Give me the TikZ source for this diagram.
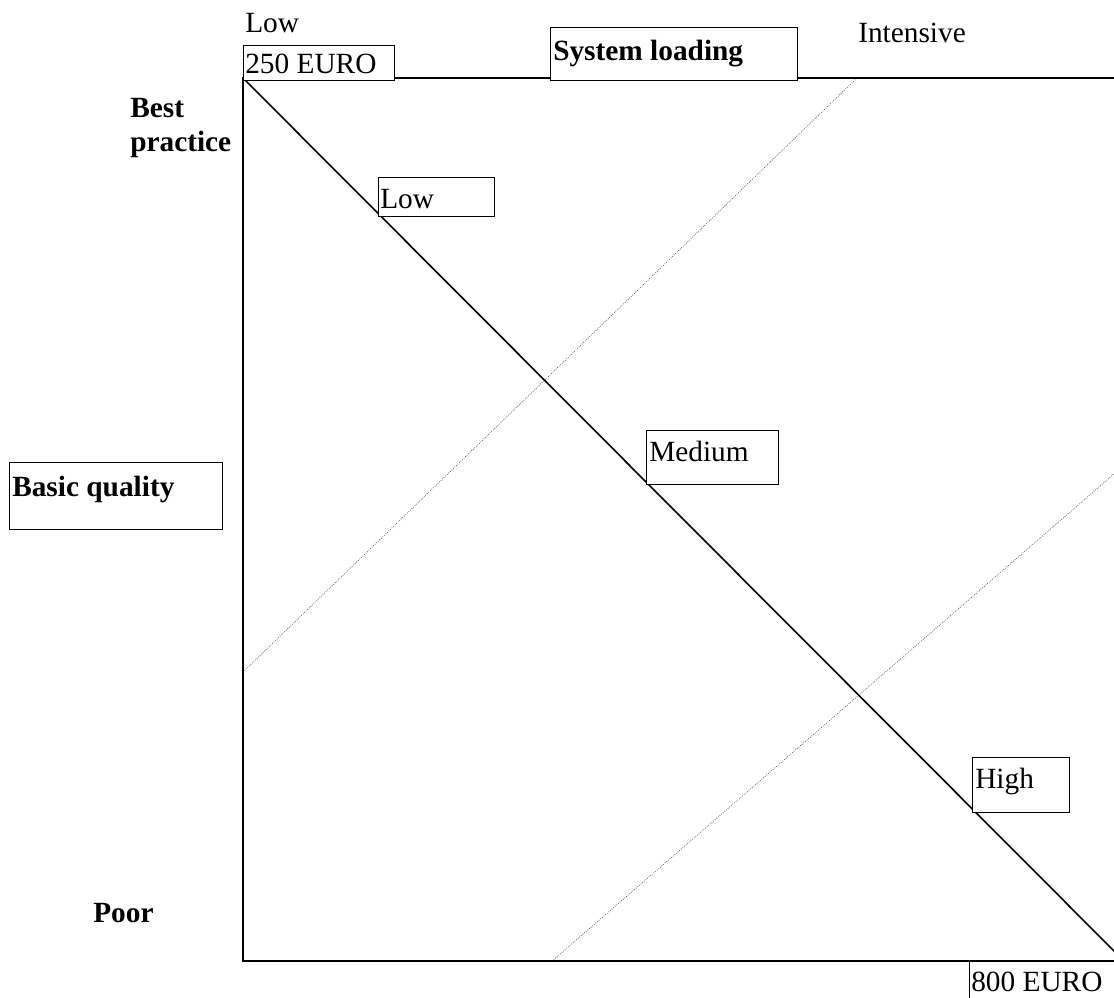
\documentclass[tikz,border=0pt]{standalone}
\usepackage{fontspec}
\setmainfont{Liberation Serif}
\begin{document}
\begin{tikzpicture}[x=0.75pt,y=-0.75pt,
  frame/.style={line width=1.6pt},
  diag/.style={line width=1.2pt},
  guide/.style={line width=0.6pt, densely dotted, black!60},
  box/.style={draw, line width=1.1pt, fill=white, inner sep=0pt, anchor=north west},
  txt/.style={inner sep=0pt, anchor=base west, font=\fontsize{22}{25.5}\selectfont},
  btxt/.style={txt, font=\fontsize{22}{25.5}\selectfont\bfseries}]
\useasboundingbox (0,0) rectangle (1114,997);
\clip (0,0) rectangle (1114,997);
% corners of the chart
\coordinate (tl) at (243,78);
\coordinate (tr) at (1130,78);
\coordinate (bl) at (243,961);
\coordinate (br) at (1124,961);
\coordinate (brx) at (1130,961);
\coordinate (g1a) at (243,672);
\coordinate (g1b) at (857,78);
\coordinate (g2a) at (552,961);
\coordinate (g2b) at (1114,474);
% guide lines
\draw[guide] (g1a) -- (g1b);
\draw[guide] (g2a) -- (g2b);
% frame
\draw[frame] (tr) -- (tl) -- (bl) -- (brx);
% diagonal
\draw[diag] (tl) -- (br);
% boxes
\node[box, minimum width=151*0.75pt, minimum height=35*0.75pt] (b250) at (243,45) {};
\node[box, minimum width=247*0.75pt, minimum height=53*0.75pt] (bsys) at (550,27) {};
\node[box, minimum width=213*0.75pt, minimum height=67*0.75pt] (bbasic) at (9,462) {};
\node[box, minimum width=116*0.75pt, minimum height=39*0.75pt] (blow) at (378,177) {};
\node[box, minimum width=132*0.75pt, minimum height=54*0.75pt] (bmed) at (646,430) {};
\node[box, minimum width=97*0.75pt, minimum height=55*0.75pt] (bhigh) at (972,757) {};
\node[box, minimum width=160*0.75pt, minimum height=80*0.75pt] (b800) at (969,961) {};
% texts
\node[txt] (tlow) at (245,32) {Low};
\node[txt] (t250) at (245,73) {250 EURO};
\node[btxt] (tsys) at (553,60) {System loading};
\node[txt] (tint) at (858,42) {Intensive};
\node[btxt] (tbest) at (130,117) {Best};
\node[btxt] (tprac) at (130,151) {practice};
\node[btxt] (tbasic) at (12,496) {Basic quality};
\node[txt] (tlowb) at (380,208) {Low};
\node[txt] (tmed) at (649,461) {Medium};
\node[txt] (thigh) at (975,788) {High};
\node[btxt] (tpoor) at (93,922) {Poor};
\node[txt, text depth=0pt] (t800) at (971,991) {800 EURO};
\end{tikzpicture}
\end{document}
